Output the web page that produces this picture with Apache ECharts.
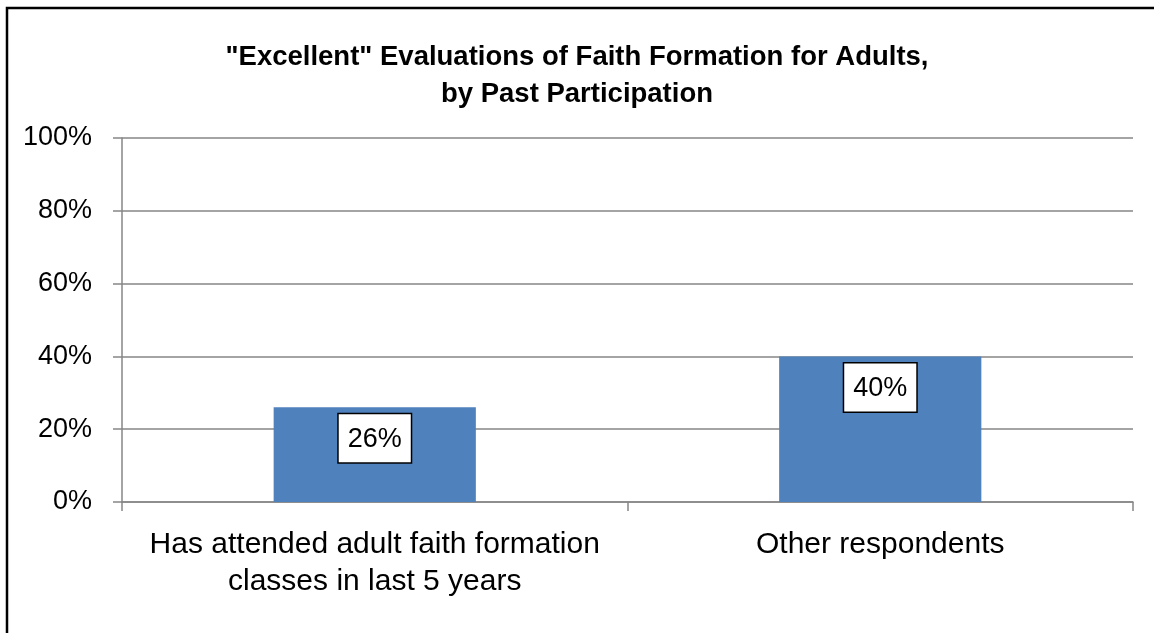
<!DOCTYPE html>
<html><head><meta charset="utf-8">
<script src="https://cdn.jsdelivr.net/npm/echarts@6/dist/echarts.min.js"></script>
<style>html,body{margin:0;padding:0;background:#fff}#c{width:1154px;height:633px}</style>
</head><body><div id="c"></div>
<script>
const titleLines = ['"Excellent" Evaluations of Faith Formation for Adults,', 'by Past Participation'];
const categories = ['Has attended adult faith formation\nclasses in last 5 years', 'Other respondents'];
const values = [26, 40];
const yMin = 0, yMax = 100, yStep = 20;

const chart = echarts.init(document.getElementById('c'));
const FONT = '"Liberation Sans", Arial, sans-serif';
chart.setOption({
  animation: false,
  backgroundColor: '#fff',
  graphic: [{
    type: 'rect', shape: {x: 7, y: 8, width: 1200, height: 700},
    style: {fill: 'none', stroke: '#000', lineWidth: 2.5}, silent: true
  }],
  title: {
    text: titleLines.join('\n'),
    left: 572, top: 34, textAlign: 'center',
    textStyle: {fontFamily: FONT, fontWeight: 'bold', fontSize: 27.5, lineHeight: 37, color: '#000'}
  },
  grid: {left: 122, right: 21, top: 138, bottom: 131, containLabel: false},
  xAxis: {
    type: 'category', data: categories,
    axisLine: {lineStyle: {color: '#868686', width: 1.5}},
    axisTick: {show: true, length: 9, lineStyle: {color: '#868686', width: 1.5}},
    axisLabel: {fontFamily: FONT, fontSize: 30, color: '#000', lineHeight: 37, margin: 24, interval: 0}
  },
  yAxis: {
    type: 'value', min: yMin, max: yMax, interval: yStep,
    axisLine: {show: true, lineStyle: {color: '#868686', width: 1.5}},
    axisTick: {show: true, length: 9, lineStyle: {color: '#868686', width: 1.5}},
    splitLine: {lineStyle: {color: '#868686', width: 1.5}},
    axisLabel: {fontFamily: FONT, fontSize: 27, color: '#000', margin: 30, formatter: v => v + '%'}
  },
  series: [{
    type: 'bar', data: values, barCategoryGap: '60%',
    itemStyle: {color: '#4F81BD'},
    label: {
      show: true, position: 'insideTop', distance: 7,
      formatter: p => p.value + '%',
      fontFamily: FONT, fontSize: 27, lineHeight: 32, color: '#000',
      backgroundColor: '#fff', borderColor: '#000', borderWidth: 1.5,
      padding: [9, 9, 7, 9]
    }
  }]
});
</script></body></html>
